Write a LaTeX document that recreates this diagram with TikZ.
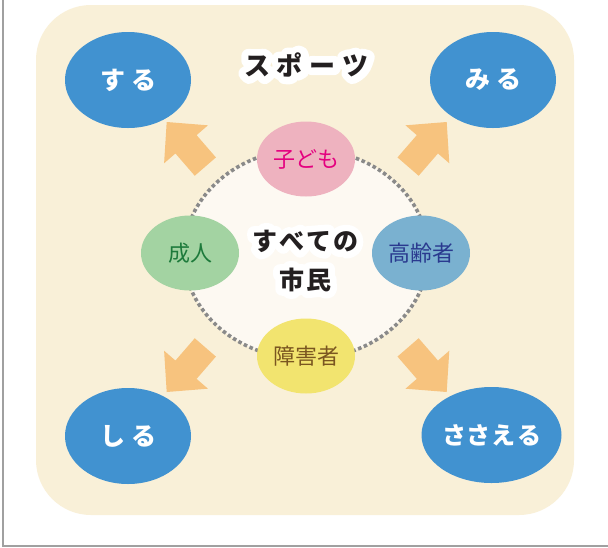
\documentclass[tikz,border=0pt]{standalone}
\usepackage{fontspec}
\newfontfamily\jp{Noto Sans CJK JP}
\newfontfamily\jphalo{Noto Sans CJK JP}[FakeBold=55]
\usetikzlibrary{shapes.geometric}
\definecolor{cream}{HTML}{F9F0D8}
\definecolor{innerc}{HTML}{FDF9F2}
\definecolor{bluec}{HTML}{4192D0}
\definecolor{pinkc}{HTML}{EEB2BF}
\definecolor{greenc}{HTML}{A3D3A2}
\definecolor{steelc}{HTML}{7AB1D0}
\definecolor{yellowc}{HTML}{F2E46F}
\definecolor{arrowc}{HTML}{F7C37E}
\definecolor{dotc}{HTML}{8A8A8A}
\definecolor{borderc}{HTML}{A0A0A0}
\definecolor{txtpink}{HTML}{E4007F}
\definecolor{txtgreen}{HTML}{1D7A3B}
\definecolor{txtnavy}{HTML}{2A3A8F}
\definecolor{txtbrown}{HTML}{7A5620}
\definecolor{txtblack}{HTML}{231F20}
\tikzset{
  bluebtn/.style={ellipse, fill=bluec, minimum width=126pt, minimum height=96pt, inner sep=0pt,
    text=white, font=\jp\bfseries\fontsize{25}{25}\selectfont},
  smallbtn/.style={ellipse, minimum width=98pt, minimum height=75pt, inner sep=0pt,
    font=\jp\fontsize{22}{22}\selectfont},
  halotxt/.style={inner sep=0pt, text=white, align=center, line join=round, line cap=round},
  maintxt/.style={inner sep=0pt, text=txtblack, align=center},
  blockarrow/.style={fill=arrowc},
  dottedring/.style={draw=dotc, line width=3.6pt, dash pattern=on 3.6pt off 2.6pt}
}
\newcommand\sportstext{ス\kern7ptポ\kern7ptー\kern7ptツ}
\newcommand\citizentext{す\kern2ptべ\kern2ptて\kern2ptの\\市\kern2pt民}
\begin{document}
\begin{tikzpicture}[x=1pt,y=-1pt]
\useasboundingbox (0,0) rectangle (608,547);
\fill[white] (0,0) rectangle (608,547);
\draw[borderc, line width=2pt] (3,0) -- (3,545.5) -- (608,545.5);
\fill[cream, rounded corners=55pt] (36,5) rectangle (574,515);

% central field
\node[ellipse, fill=innerc, dottedring,
  minimum width=244pt, minimum height=210pt, inner sep=0pt] (all) at (306,254) {};

% block arrows
\foreach \tx/\ty/\r in {166.7/122/-49.1, 446.7/122/-130.9, 166.7/392/49.1, 446.7/392/130.9} {
  \fill[blockarrow, shift={(\tx,\ty)}, rotate=\r]
    (0,0) -- (29.5,29) -- (29.5,14) -- (59,14) -- (59,-14) -- (29.5,-14) -- (29.5,-29) -- cycle;
}

% outer actions
\node[bluebtn] (suru) at (128,80) {す\kern6ptる};
\node[bluebtn] (miru) at (493,80) {み\kern6ptる};
\node[bluebtn] (shiru) at (128,436) {し\kern6ptる};
\node[bluebtn, font=\jp\bfseries\fontsize{24}{24}\selectfont] (sasaeru) at (491.5,435) {さ\kern1ptさ\kern1ptえ\kern1ptる};

% groups
\node[smallbtn, fill=pinkc, text=txtpink] (kodomo) at (306,159) {子ども};
\node[smallbtn, fill=greenc, text=txtgreen] (seijin) at (190,253) {成人};
\node[smallbtn, fill=steelc, text=txtnavy] (koreisha) at (421,253) {高齢者};
\node[smallbtn, fill=yellowc, text=txtbrown] (shogaisha) at (306,356) {障害者};

% titles with white halo
\node[halotxt, font=\jphalo\bfseries\fontsize{26}{26}\selectfont] (sportshalo) at (306.5,65) {\sportstext};
\node[maintxt, font=\jp\bfseries\fontsize{26}{26}\selectfont] (sports) at (306.5,65) {\sportstext};
\node[halotxt, font=\jphalo\bfseries\fontsize{25}{39}\selectfont] (citizenhalo) at (305,261) {\citizentext};
\node[maintxt, font=\jp\bfseries\fontsize{25}{39}\selectfont] (citizen) at (305,261) {\citizentext};
\end{tikzpicture}
\end{document}
